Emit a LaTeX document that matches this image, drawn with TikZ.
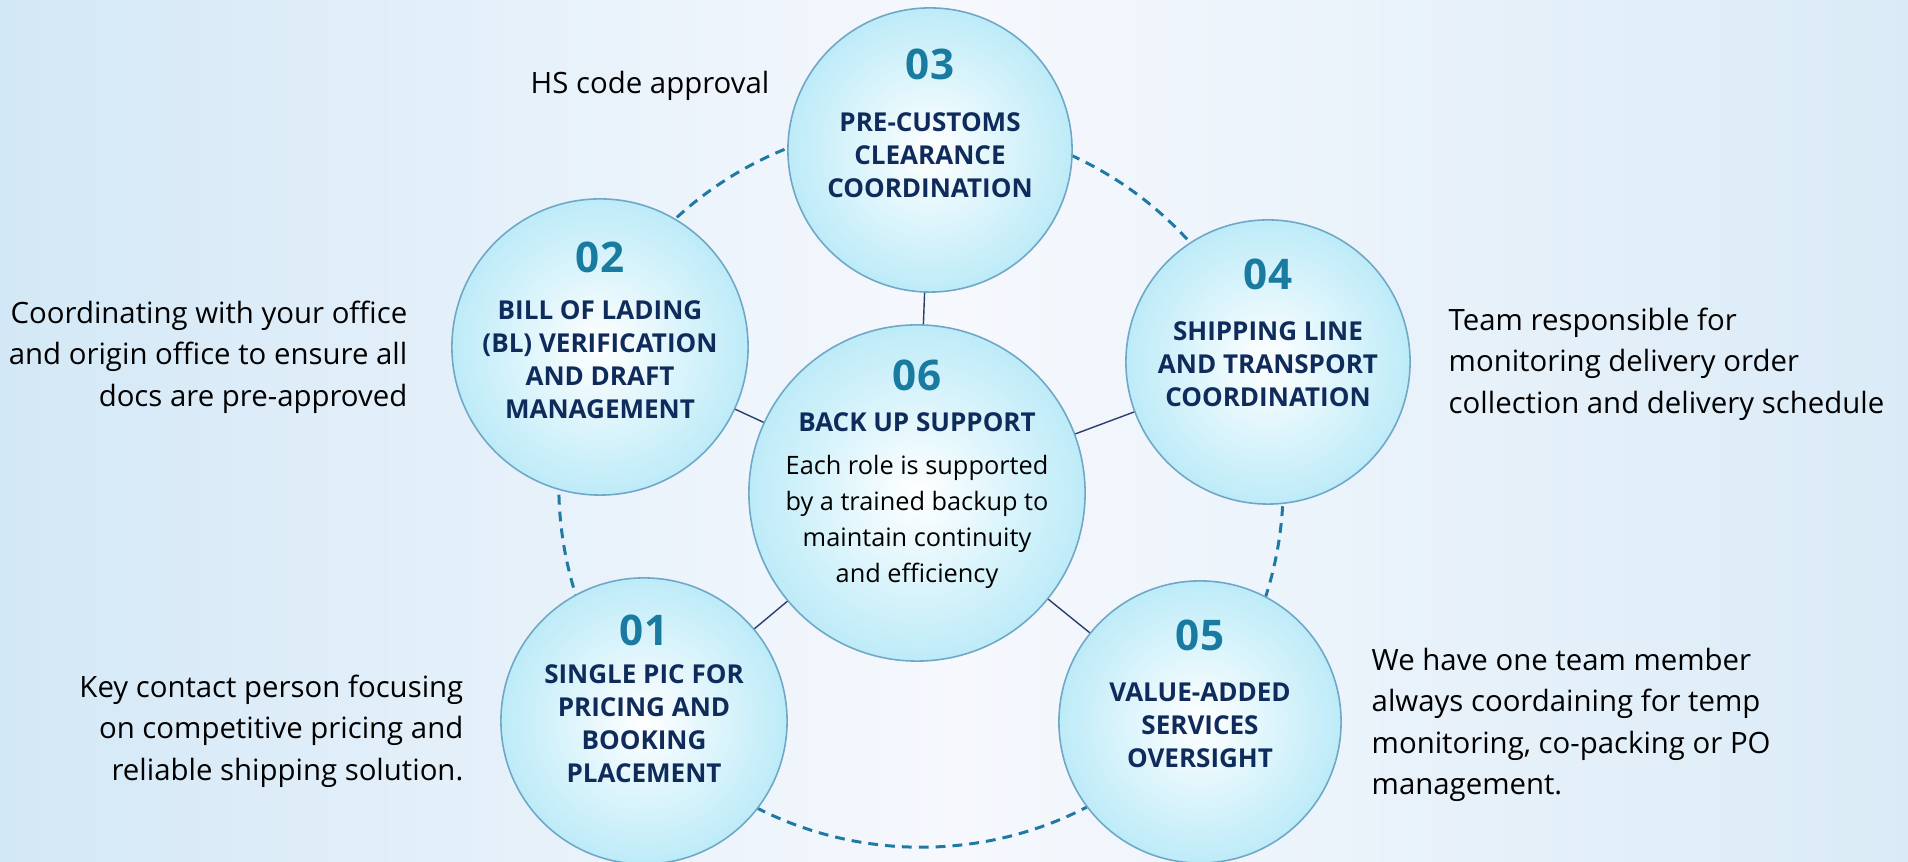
\documentclass[tikz,border=0pt]{standalone}
\usepackage{fontspec}
\setmainfont{Open Sans}
\usetikzlibrary{positioning}

\definecolor{bgblue}{HTML}{D3E8F6}
\definecolor{bgwhite}{HTML}{F6F8FD}
\definecolor{bgright}{HTML}{DAEBF7}
\definecolor{bubblecyan}{HTML}{BDEBF8}
\definecolor{rimblue}{HTML}{6FA7C6}
\definecolor{numteal}{HTML}{1A7BA0}
\definecolor{titlenavy}{HTML}{0F2B5B}
\definecolor{ringteal}{HTML}{1F7AA3}
\definecolor{spokenavy}{HTML}{2A3F6E}

\begin{document}
\begin{tikzpicture}[
    x=0.01cm, y=-0.01cm,
    bubble/.style={circle, draw=rimblue, line width=0.45pt, inner color=white, outer color=bubblecyan, minimum size=#1, inner sep=0pt},
    num/.style={font=\fontsize{12}{14}\selectfont\bfseries, text=numteal, inner sep=0pt},
    title/.style={font=\fontsize{7.4}{9.4}\selectfont\bfseries, text=titlenavy, align=center, inner sep=0pt},
    body/.style={font=\fontsize{7.2}{10.2}\selectfont, align=center, inner sep=0pt},
    note/.style={font=\fontsize{8.35}{11.8}\selectfont, inner sep=0pt},
    spoke/.style={draw=spokenavy, line width=0.4pt},
    ring/.style={draw=ringteal, line width=0.85pt, dash pattern=on 2.8pt off 2pt}
]
    % background
    \shade[left color=bgblue, right color=bgright, middle color=bgwhite] (0,0) rectangle (1908,862);
    \useasboundingbox (0,0) rectangle (1908,862);

    % dashed ring behind the bubbles
    \coordinate (hub) at (921,485);
    \draw[ring] (hub) circle (3.62cm);

    % bubbles
    \node[bubble=3.36cm] (c06) at (917,493) {};
    \node[bubble=2.84cm] (c03) at (930,150) {};
    \node[bubble=2.96cm] (c02) at (600,347) {};
    \node[bubble=2.84cm] (c04) at (1268,362) {};
    \node[bubble=2.86cm] (c01) at (644,721) {};
    \node[bubble=2.82cm] (c05) at (1200,722) {};

    % spokes
    \draw[spoke] (c06) -- (c03);
    \draw[spoke] (c06) -- (c02);
    \draw[spoke] (c06) -- (c04);
    \draw[spoke] (c06) -- (c01);
    \draw[spoke] (c06) -- (c05);

    % bubble texts
    \path (c03) ++(0,-86) node[num] (num03) {03};
    \path (c03) ++(0,5) node[title] (t03) {PRE-CUSTOMS\\CLEARANCE\\COORDINATION};
    \path (c02) ++(0,-90) node[num] (num02) {02};
    \path (c02) ++(0,13) node[title] (t02) {BILL OF LADING\\(BL) VERIFICATION\\AND DRAFT\\MANAGEMENT};
    \path (c04) ++(0,-88) node[num] (num04) {04};
    \path (c04) ++(0,2) node[title] (t04) {SHIPPING LINE\\AND TRANSPORT\\COORDINATION};
    \path (c01) ++(0,-91) node[num] (num01) {01};
    \path (c01) ++(0,3) node[title] (t01) {SINGLE PIC FOR\\PRICING AND\\BOOKING\\PLACEMENT};
    \path (c05) ++(0,-87) node[num] (num05) {05};
    \path (c05) ++(0,3) node[title] (t05) {VALUE-ADDED\\SERVICES\\OVERSIGHT};
    \path (c06) ++(0,-118) node[num] (num06) {06};
    \path (c06) ++(0,-71) node[title] (t06) {BACK UP SUPPORT};
    \path (c06) ++(0,29) node[body] (b06) {Each role is supported\\by a trained backup to\\maintain continuity\\and efficiency};

    % side notes
    \node[note, anchor=east] (n03) at (770,86) {HS code approval};
    \node[note, anchor=east, align=right] (n02) at (408,357) {Coordinating with your office\\and origin office to ensure all\\docs are pre-approved};
    \node[note, anchor=east, align=right] (n01) at (464,731) {Key contact person focusing\\on competitive pricing and\\reliable shipping solution.};
    \node[note, anchor=west, align=left] (n04) at (1448,364) {Team responsible for\\monitoring delivery order\\collection and delivery schedule};
    \node[note, anchor=west, align=left] (n05) at (1371,725) {We have one team member\\always coordaining for temp\\monitoring, co-packing or PO\\management.};
\end{tikzpicture}
\end{document}
